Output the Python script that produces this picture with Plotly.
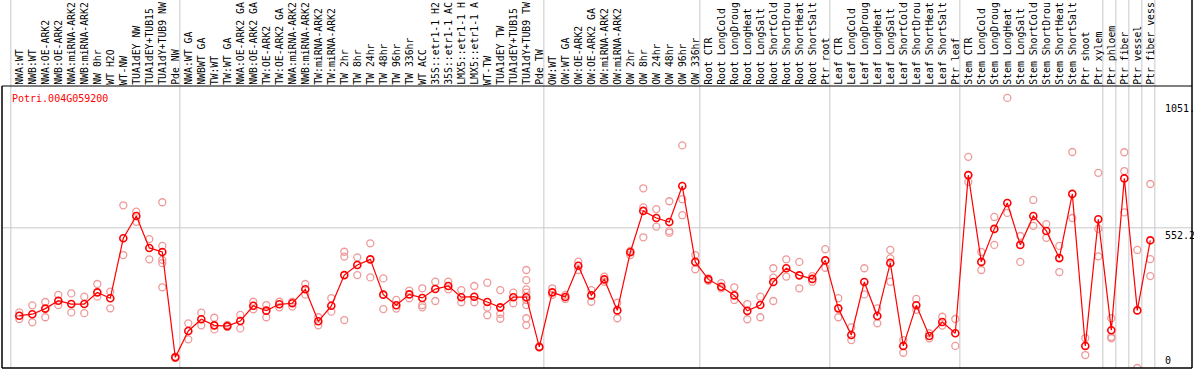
import plotly.graph_objects as go

gene_name = "Potri.004G059200"

categories = [
    "NWA:WT", "NWB:WT", "NWA:OE-ARK2", "NWB:OE-ARK2", "NWA:miRNA-ARK2", "NWB:miRNA-ARK2",
    "NW 0hr", "WT H2O", "WT-NW", "TUA1dEY NW", "TUA1dEY+TUB15 NW", "TUA1dY+TUB9 NW", "Pde NW",
    "NWA:WT GA", "NWBWT GA", "TW:WT", "TW:WT GA", "NWA:OE-ARK2 GA", "NWB:OE-ARK2 GA",
    "TW:OE-ARK2", "TW:OE-ARK2 GA", "NWA:miRNA-ARK2 GA", "NWB:miRNA-ARK2 GA", "TW:miRNA-ARK2",
    "TW:miRNA-ARK2 GA", "TW 2hr", "TW 8hr", "TW 24hr", "TW 48hr", "TW 96hr", "TW 336hr",
    "WT ACC", "35S::etr1-1 H2O", "35S::etr1-1 ACC", "LMX5::etr1-1 H2O", "LMX5::etr1-1 ACC",
    "WT-TW", "TUA1dEY TW", "TUA1dEY+TUB15 TW", "TUA1dY+TUB9 TW", "Pde TW",
    "OW:WT", "OW:WT GA", "OW:OE-ARK2", "OW:OE-ARK2 GA", "OW:miRNA-ARK2", "OW:miRNA-ARK2 GA",
    "OW 2hr", "OW 8hr", "OW 24hr", "OW 48hr", "OW 96hr", "OW 336hr",
    "Root CTR", "Root LongCold", "Root LongDrought", "Root LongHeat", "Root LongSalt",
    "Root ShortCold", "Root ShortDrought", "Root ShortHeat", "Root ShortSalt", "Ptr root",
    "Leaf CTR", "Leaf LongCold", "Leaf LongDrought", "Leaf LongHeat", "Leaf LongSalt",
    "Leaf ShortCold", "Leaf ShortDrought", "Leaf ShortHeat", "Leaf ShortSalt", "Ptr leaf",
    "Stem CTR", "Stem LongCold", "Stem LongDrought", "Stem LongHeat", "Stem LongSalt",
    "Stem ShortCold", "Stem ShortDrought", "Stem ShortHeat", "Stem ShortSalt", "Ptr shoot",
    "Ptr xylem", "Ptr phloem", "Ptr fiber", "Ptr vessel", "Ptr fiber vessel",
]

means = [
    206, 212, 234, 265, 252, 252, 298, 275, 511, 599, 473, 457, 42,
    146, 192, 168, 165, 185, 245, 226, 251, 255, 310, 184, 245, 366, 406, 428, 289, 247, 290,
    276, 311, 323, 279, 281, 260, 239, 279, 279, 83,
    298, 280, 403, 286, 349, 227, 456, 619, 591, 575, 717, 418,
    349, 320, 286, 225, 248, 339, 393, 365, 351, 424,
    235, 130, 339, 205, 414, 87, 247, 126, 181, 137,
    760, 418, 548, 650, 485, 599, 540, 433, 686, 87,
    586, 149, 747, 227, 503,
]

replicates = [
    [219, 193], [247, 180], [260, 200], [288, 248], [294, 219], [281, 216], [331, 281], [301, 235],
    [641, 445], [616, 576], [508, 428], [653, 481, 426, 413, 318], [40, 45],
    [176, 113], [218, 168], [198, 152], [162, 170], [209, 156], [261, 231], [248, 200], [261, 239],
    [261, 242], [331, 289], [200, 168], [275, 222], [458, 439, 189], [436, 366], [491, 357],
    [353, 232], [268, 234], [305, 275],
    [314, 248, 239], [340, 264], [340, 310], [307, 259], [323, 259], [336, 238, 208],
    [307, 213, 194], [297, 255], [386, 346, 310, 297, 268, 248, 196, 169], [80, 86],
    [314, 288], [288, 272], [419, 386], [307, 261], [360, 340], [257, 196], [461, 445],
    [708, 633, 515], [626, 557], [657, 540, 533], [877, 665, 602], [445, 389],
    [353, 343], [334, 314], [318, 268], [252, 192], [281, 200], [393, 356, 264], [428, 360],
    [418, 314], [362, 340], [468, 395],
    [275, 200], [160, 110], [393, 290], [235, 176], [465, 432, 340], [110, 60], [272, 229],
    [137, 117], [202, 167], [193, 87],
    [832, 733], [457, 386], [595, 485], [1064, 611], [520, 418], [662, 560], [567, 513],
    [481, 378], [851, 591], [118, 51],
    [769, 548, 440], [196, 123, 117], [850, 776, 613], [465, 0], [725, 429, 362],
]

y_tick_values = [1051.5, 552.2, 0]
y_tick_labels = ["1051.", "552.2", "0"]
grid_value = 552.2
group_starts = [0, 13, 41, 53, 63, 73, 84, 85, 86, 87, 88]
LABEL_CHARS = 14  # visible length of the column headers

X_RANGE = [-1.331, 90.208]
Y_RANGE = [0, 1111]
FONT = "DejaVu Sans Mono"

x_idx = list(range(len(categories)))
rep_x, rep_y = [], []
for i, reps in enumerate(replicates):
    for v in reps:
        rep_x.append(i)
        rep_y.append(v)

fig = go.Figure()
fig.add_trace(go.Scatter(
    x=rep_x, y=rep_y, mode="markers",
    marker=dict(symbol="circle-open", size=7, color="#ee9a9a", line=dict(width=1.3, color="#ee9a9a")),
    hoverinfo="skip", showlegend=False,
))
fig.add_trace(go.Scatter(
    x=x_idx, y=means, mode="lines+markers",
    line=dict(color="#ff0000", width=1.2),
    marker=dict(symbol="circle-open", size=7, color="#ff0000", line=dict(width=1.6, color="#ff0000")),
    showlegend=False,
))


def xpaper(i):
    return (i - X_RANGE[0]) / (X_RANGE[1] - X_RANGE[0])


top_paper = 370 / 282 - 2 / 282  # figure top in paper units

shapes = []
for g in group_starts:
    xp = xpaper(g - 0.65)
    shapes.append(dict(type="line", xref="paper", yref="paper", x0=xp, x1=xp, y0=0, y1=top_paper,
                       line=dict(color="#c8c8c8", width=1), layer="below"))
shapes.append(dict(type="line", xref="paper", yref="y", x0=0, x1=1, y0=grid_value, y1=grid_value,
                   line=dict(color="#c8c8c8", width=1), layer="below"))
shapes.append(dict(type="line", xref="paper", yref="paper", x0=0, x1=1, y0=1, y1=1,
                   line=dict(color="black", width=1.2)))
shapes.append(dict(type="line", xref="paper", yref="paper", x0=0, x1=1, y0=0, y1=0,
                   line=dict(color="black", width=1.5)))
shapes.append(dict(type="line", xref="paper", yref="paper", x0=0, x1=0, y0=0, y1=1,
                   line=dict(color="black", width=1.5)))
shapes.append(dict(type="line", xref="paper", yref="paper", x0=1, x1=1, y0=0, y1=top_paper,
                   line=dict(color="black", width=1.5)))

annotations = []
for i, c in enumerate(categories):
    annotations.append(dict(x=i, y=1, xref="x", yref="paper", text=c[:LABEL_CHARS], textangle=-90,
                            showarrow=False, xanchor="center", yanchor="bottom", yshift=-1,
                            font=dict(family=FONT, size=9.8, color="black")))
annotations.append(dict(x=xpaper(-0.72), y=1, xref="paper", yref="paper", text=gene_name,
                        showarrow=False, xanchor="left", yanchor="top", yshift=-5,
                        font=dict(family=FONT, size=10, color="#ff0000")))
for v, t in zip(y_tick_values, y_tick_labels):
    annotations.append(dict(x=xpaper(88.0), y=v, xref="paper", yref="y", text=t,
                            showarrow=False, xanchor="left",
                            yanchor="bottom" if v == 0 else "top",
                            font=dict(family=FONT, size=10, color="black")))

fig.update_layout(
    width=1194, height=370,
    margin=dict(l=2, r=2, t=86, b=2, pad=0),
    paper_bgcolor="white", plot_bgcolor="white",
    hovermode=False,
    xaxis=dict(range=X_RANGE, visible=False, showgrid=False, zeroline=False),
    yaxis=dict(range=Y_RANGE, visible=False, showgrid=False, zeroline=False),
    shapes=shapes, annotations=annotations,
)

fig.write_html(
    "out.html",
    config={"displayModeBar": False, "staticPlot": True},
    post_script="document.body.style.margin='0';document.body.style.overflow='hidden';",
)
